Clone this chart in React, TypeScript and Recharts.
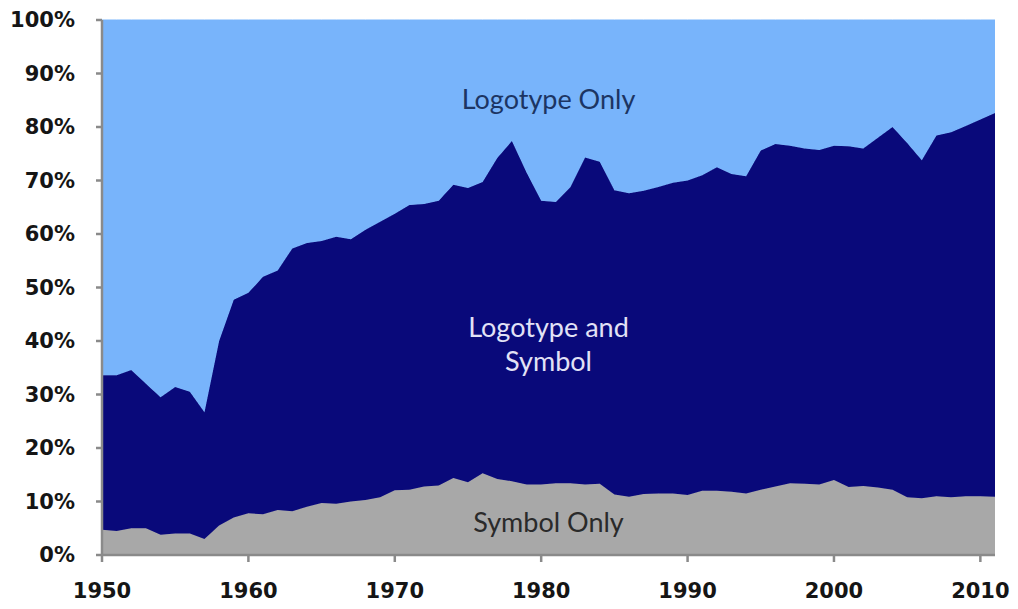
import React from "react";
import { AreaChart, Area, XAxis, YAxis, ReferenceDot } from "recharts";

const years = [
  1950, 1951, 1952, 1953, 1954, 1955, 1956, 1957, 1958, 1959,
  1960, 1961, 1962, 1963, 1964, 1965, 1966, 1967, 1968, 1969,
  1970, 1971, 1972, 1973, 1974, 1975, 1976, 1977, 1978, 1979,
  1980, 1981, 1982, 1983, 1984, 1985, 1986, 1987, 1988, 1989,
  1990, 1991, 1992, 1993, 1994, 1995, 1996, 1997, 1998, 1999,
  2000, 2001, 2002, 2003, 2004, 2005, 2006, 2007, 2008, 2009,
  2010, 2011,
];

const symbolOnly = [
  4.7, 4.5, 5.0, 5.0, 3.8, 4.0, 4.0, 3.0, 5.5, 7.0,
  7.8, 7.6, 8.4, 8.2, 9.0, 9.7, 9.6, 10.0, 10.3, 10.8,
  12.1, 12.2, 12.8, 13.0, 14.4, 13.6, 15.3, 14.2, 13.8, 13.2,
  13.2, 13.4, 13.4, 13.2, 13.3, 11.3, 10.9, 11.4, 11.5, 11.5,
  11.2, 12.0, 12.0, 11.8, 11.5, 12.2, 12.8, 13.4, 13.3, 13.2,
  14.0, 12.7, 12.9, 12.6, 12.2, 10.8, 10.6, 11.0, 10.8, 11.0,
  11.0, 10.9,
];

const logotypeAndSymbol = [
  28.9, 29.1, 29.6, 27.0, 25.7, 27.4, 26.5, 23.7, 34.5, 40.7,
  41.2, 44.4, 44.8, 49.1, 49.3, 49.0, 49.9, 49.0, 50.5, 51.5,
  51.7, 53.2, 52.8, 53.2, 54.8, 55.0, 54.4, 60.0, 63.6, 58.3,
  53.0, 52.6, 55.4, 61.1, 60.2, 56.9, 56.7, 56.7, 57.3, 58.1,
  58.8, 59.0, 60.5, 59.4, 59.3, 63.4, 64.0, 63.1, 62.7, 62.5,
  62.5, 63.7, 63.1, 65.4, 67.8, 66.2, 63.2, 67.4, 68.2, 69.2,
  70.4, 71.7,
];

const logotypeOnly = [
  66.4, 66.4, 65.4, 68.0, 70.5, 68.6, 69.5, 73.3, 60.0, 52.3,
  51.0, 48.0, 46.8, 42.7, 41.7, 41.3, 40.5, 41.0, 39.2, 37.7,
  36.2, 34.6, 34.4, 33.8, 30.8, 31.4, 30.3, 25.8, 22.6, 28.5,
  33.8, 34.0, 31.2, 25.7, 26.5, 31.8, 32.4, 31.9, 31.2, 30.4,
  30.0, 29.0, 27.5, 28.8, 29.2, 24.4, 23.2, 23.5, 24.0, 24.3,
  23.5, 23.6, 24.0, 22.0, 20.0, 23.0, 26.2, 21.6, 21.0, 19.8,
  18.6, 17.4,
];

const xTicks = [1950, 1960, 1970, 1980, 1990, 2000, 2010];
const yTicks = [0, 10, 20, 30, 40, 50, 60, 70, 80, 90, 100];

const data = years.map((year, i) => ({
  year,
  symbolOnly: symbolOnly[i],
  logotypeAndSymbol: logotypeAndSymbol[i],
  logotypeOnly: logotypeOnly[i],
}));

const tickStyle = {
  fontFamily: "DejaVu Sans",
  fontWeight: 700,
  fontSize: 21,
  fill: "#151515",
};

const labelFont = "Lato";

function makeLabel(lines: string[], color: string) {
  return (props: any) => {
    const vb = props.viewBox || {};
    const cx = (vb.x ?? 0) + (vb.width ?? 0) / 2;
    const cy = (vb.y ?? 0) + (vb.height ?? 0) / 2;
    const lh = 34;
    const start = cy - ((lines.length - 1) * lh) / 2;
    return (
      <text
        x={cx}
        y={start}
        textAnchor="middle"
        dominantBaseline="central"
        fontFamily={labelFont}
        fontSize={27}
        fill={color}
      >
        {lines.map((l, i) => (
          <tspan key={i} x={cx} y={start + i * lh}>
            {l}
          </tspan>
        ))}
      </text>
    );
  };
}

export default function App() {
  return (
    <div style={{ position: "absolute", left: 0, top: 0, background: "#ffffff" }}>
      <AreaChart
        width={1018}
        height={609}
        data={data}
        margin={{ top: 20, right: 23, bottom: 0, left: 0 }}
      >
        <XAxis
          dataKey="year"
          type="number"
          domain={[1950, 2011]}
          ticks={xTicks}
          interval={0}
          tickSize={7}
          tickMargin={21}
          height={54}
          stroke="#8a8a8a"
          strokeWidth={2.5}
          tick={tickStyle}
        />
        <YAxis
          type="number"
          domain={[0, 100]}
          ticks={yTicks}
          interval={0}
          width={102}
          tickSize={6}
          tickMargin={21}
          tickFormatter={(v: number) => `${v}%`}
          stroke="#8a8a8a"
          strokeWidth={2.5}
          tick={tickStyle}
        />
        <Area
          type="linear"
          dataKey="symbolOnly"
          stackId="a"
          fill="#a8a8a8"
          stroke="#a8a8a8"
          strokeWidth={1}
          fillOpacity={1}
          isAnimationActive={false}
        />
        <Area
          type="linear"
          dataKey="logotypeAndSymbol"
          stackId="a"
          fill="#09097a"
          stroke="#09097a"
          strokeWidth={1}
          fillOpacity={1}
          isAnimationActive={false}
        />
        <Area
          type="linear"
          dataKey="logotypeOnly"
          stackId="a"
          fill="#78b4fb"
          stroke="#78b4fb"
          strokeWidth={1}
          fillOpacity={1}
          isAnimationActive={false}
        />
        <ReferenceDot
          x={1980.5}
          y={85.4}
          r={1}
          fill="none"
          stroke="none"
          ifOverflow="visible"
          label={{ content: makeLabel(["Logotype Only"], "#1c3563") }}
        />
        <ReferenceDot
          x={1980.5}
          y={39.6}
          r={1}
          fill="none"
          stroke="none"
          ifOverflow="visible"
          label={{ content: makeLabel(["Logotype and", "Symbol"], "#e2e2f6") }}
        />
        <ReferenceDot
          x={1980.5}
          y={6.4}
          r={1}
          fill="none"
          stroke="none"
          ifOverflow="visible"
          label={{ content: makeLabel(["Symbol Only"], "#2a2a2a") }}
        />
      </AreaChart>
    </div>
  );
}
